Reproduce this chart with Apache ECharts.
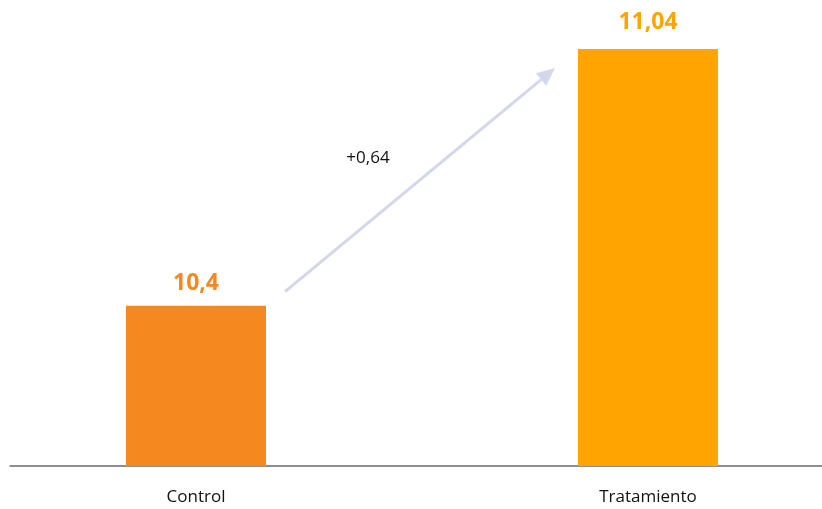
<!DOCTYPE html>
<html>
<head>
<meta charset="utf-8">
<script src="https://cdn.jsdelivr.net/npm/echarts@6/dist/echarts.min.js"></script>
<style>
html, body { margin: 0; padding: 0; background: #fff; }
#main { width: 822px; height: 509px; }
</style>
</head>
<body>
<div id="main"></div>
<script>
var categories = ['Control', 'Tratamiento']
var values = [10.4, 11.04]
var barColors = ['#F5891F', '#FFA400']
var diffText = '+0,64'

var chart = echarts.init(document.getElementById('main'))

function fmt(v) {
  return String(v).replace('.', ',')
}

// bars sit at x = 0 and x = 1 on a value axis so they can be placed off-centre like the original
var option = {
  animation: false,
  grid: { left: 10, right: 0, top: 25, bottom: 43 },
  xAxis: {
    type: 'value',
    min: -0.4115,
    max: 1.385,
    splitLine: { show: false },
    axisLine: { show: true, onZero: false, lineStyle: { color: '#6b6b6b', width: 1.5 } },
    axisTick: { show: false },
    axisLabel: {
      customValues: [0, 1],
      fontFamily: 'Open Sans',
      fontSize: 17,
      color: '#111',
      margin: 23,
      formatter: function (v) { return categories[Math.round(v)] || '' }
    }
  },
  yAxis: {
    type: 'value',
    min: 10,
    max: 11.1,
    show: false,
    splitLine: { show: false }
  },
  series: [{
    type: 'bar',
    barWidth: 140,
    data: values.map(function (v, i) {
      return {
        value: [i, v],
        itemStyle: { color: barColors[i] },
        label: { color: barColors[i], distance: i === 0 ? 11 : 15 }
      }
    }),
    label: {
      show: true,
      position: 'top',
      fontFamily: 'Open Sans',
      fontWeight: 'bold',
      fontSize: 23,
      formatter: function (p) { return fmt(p.value[1]) }
    }
  }]
}
chart.setOption(option)

// arrow annotation between the bar tops
var p0 = chart.convertToPixel({ gridIndex: 0 }, [0, values[0]])
var p1 = chart.convertToPixel({ gridIndex: 0 }, [1, values[1]])
var x1 = p0[0] + 89, y1 = p0[1] - 14
var x2 = p1[0] - 93, y2 = p1[1] + 19
var ang = Math.atan2(y2 - y1, x2 - x1)
var hl = 18, hw = 8
var bx = x2 - hl * Math.cos(ang), by = y2 - hl * Math.sin(ang)
var nx = -Math.sin(ang), ny = Math.cos(ang)

chart.setOption({
  graphic: [
    {
      type: 'line',
      shape: { x1: x1, y1: y1, x2: bx, y2: by },
      style: { stroke: '#D3D7EB', lineWidth: 3 }
    },
    {
      type: 'polygon',
      shape: { points: [[x2, y2], [bx + nx * hw, by + ny * hw], [bx - nx * hw, by - ny * hw]] },
      style: { fill: '#D3D7EB' }
    },
    {
      type: 'text',
      x: 368,
      y: 158,
      style: {
        text: diffText,
        fontFamily: 'Open Sans',
        fontSize: 17,
        fill: '#111',
        align: 'center',
        verticalAlign: 'middle'
      }
    }
  ]
})
</script>
</body>
</html>
